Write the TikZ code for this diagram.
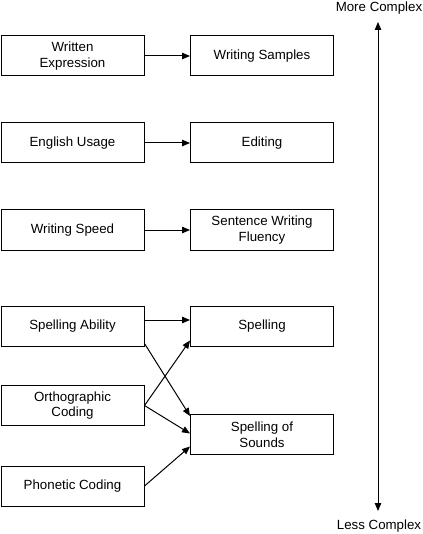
\documentclass[tikz,border=0pt]{standalone}
\usepackage{fontspec}
\setmainfont{Liberation Sans}
\usetikzlibrary{arrows.meta}
\begin{document}
\begin{tikzpicture}[x=1pt,y=-1pt,
  box/.style={draw,line width=1pt,minimum width=143pt,minimum height=40pt,inner sep=0pt,align=center,
    font=\fontsize{13.3pt}{15.5pt}\selectfont},
  conn/.style={line width=1pt,-{Triangle[length=8pt,width=6.5pt]}},
  lbl/.style={font=\fontsize{13.3pt}{15.5pt}\selectfont,inner sep=0pt}]
\useasboundingbox (0,0) rectangle (422,534);
\node[box] (we) at (72.5,56) {Written\\Expression};
\node[box] (ws) at (262,56) {Writing Samples};
\node[box] (eu) at (72.5,143) {English Usage};
\node[box] (ed) at (262,143) {Editing};
\node[box] (wsp) at (72.5,230) {Writing Speed};
\node[box] (swf) at (262,230) {Sentence Writing\\Fluency};
\node[box] (sa) at (72.5,326) {Spelling Ability};
\node[box] (sp) at (262,326) {Spelling};
\node[box] (oc) at (72.5,405.5) {Orthographic\\Coding};
\node[box] (sos) at (262,434.5) {Spelling of\\Sounds};
\node[box] (pc) at (72.5,486) {Phonetic Coding};
\node[lbl] (mc) at (379,8) {More Complex};
\node[lbl] (lc) at (379,526) {Less Complex};
\coordinate (top) at (378,22);
\coordinate (bot) at (378,511);
\draw[conn] (we) -- (ws);
\draw[conn] (eu) -- (ed);
\draw[conn] (wsp) -- (swf);
\draw[conn] ([yshift=6pt]sa.east) -- ([yshift=6pt]sp.west);
\draw[conn] ([yshift=3pt]sa.south east) -- ([yshift=-2pt]sos.north west);
\draw[conn] (oc.east) -- ([yshift=6pt]sp.south west);
\draw[conn] (oc.east) -- ([yshift=1pt]sos.west);
\draw[conn] (pc.east) -- ([yshift=-12pt]sos.west);
\draw[line width=1pt,{Triangle[length=8pt,width=6.5pt]}-{Triangle[length=8pt,width=6.5pt]}] (top) -- (bot);
\end{tikzpicture}
\end{document}
